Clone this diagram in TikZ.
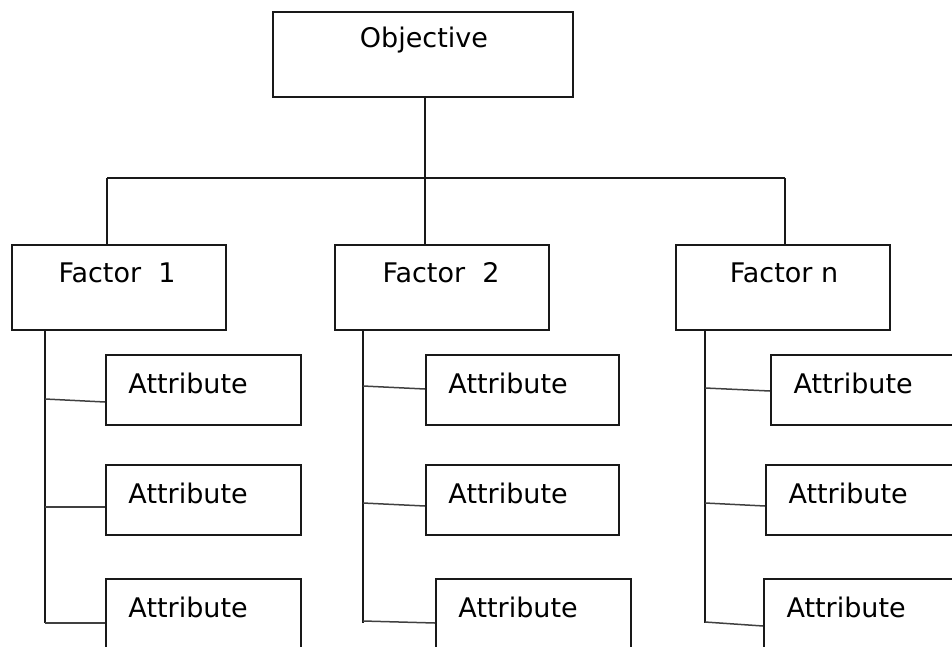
\documentclass[tikz,border=0pt]{standalone}
\usepackage{fontspec}
\setmainfont{DejaVu Sans}
\begin{document}
\begin{tikzpicture}[x=1pt,y=-1pt,
  box/.style={draw=black!90,line width=1.8pt,rectangle,inner sep=0pt},
  factorbox/.style={box,minimum width=214pt,minimum height=85pt},
  attrbox/.style={box,minimum width=195pt,minimum height=70pt},
  lbl/.style={inner sep=0pt,font=\fontsize{27}{32}\selectfont},
  conn/.style={draw=black!90,line width=1.8pt},
  thin/.style={draw=black!75,line width=1.5pt}]
\useasboundingbox (0,0) rectangle (952,646);
\clip (0,0) rectangle (952,646);
% objective
\node[box,minimum width=300pt,minimum height=85pt] (obj) at (423,54.5) {};
\node[lbl] (tobj) at (424,40) {Objective};
% factors
\node[factorbox] (f1) at (119,287.5) {};
\node[factorbox] (f2) at (442,287.5) {};
\node[factorbox] (f3) at (783,287.5) {};
\node[lbl] (tf1) at (117,273) {Factor\ \ 1};
\node[lbl] (tf2) at (441,273) {Factor\ \ 2};
\node[lbl] (tf3) at (784,273) {Factor n};
% attributes col 1
\node[attrbox] (a11) at (203.5,390) {};
\node[attrbox] (a12) at (203.5,500) {};
\node[attrbox] (a13) at (203.5,614) {};
% col 2
\node[attrbox,minimum width=193pt] (a21) at (522.5,390) {};
\node[attrbox,minimum width=193pt] (a22) at (522.5,500) {};
\node[attrbox] (a23) at (533.5,614) {};
% col 3
\node[attrbox] (a31) at (868.5,390) {};
\node[attrbox] (a32) at (863.5,500) {};
\node[attrbox] (a33) at (861.5,614) {};
% attribute labels
\foreach \n in {a11,a12,a13,a21,a22,a23,a31,a32,a33}{
  \node[lbl] (t\n) at ([xshift=83pt,yshift=-29pt]\n.north west) {Attribute};
}
% tree from objective
\coordinate (hl) at (107,178);
\coordinate (hr) at (785,178);
\draw[conn] (obj.south -| 425,0) -- (425,178);
\draw[conn] (hl) -- (hr);
\draw[conn] (hl) -- (hl |- f1.north);
\draw[conn] (425,178) -- (f2.north -| 425,0);
\draw[conn] (hr) -- (hr |- f3.north);
% verticals under factors
\coordinate (v1) at (45,623);
\coordinate (v2) at (363,623);
\coordinate (v3) at (705,623);
\draw[conn] (f1.south -| v1) -- (v1);
\draw[conn] (f2.south -| v2) -- (v2);
\draw[conn] (f3.south -| v3) -- (v3);
% connectors to attributes
\draw[thin] (45,399) -- ([yshift=-12pt]a11.west);
\draw[thin] (45,507) -- ([yshift=-7pt]a12.west);
\draw[thin] (v1) -- (a13.west |- v1);
\draw[thin] (363,386) -- ([yshift=1pt]a21.west);
\draw[thin] (363,503) -- ([yshift=-6pt]a22.west);
\draw[thin] (363,621) -- ([yshift=-9pt]a23.west);
\draw[thin] (705,388) -- ([yshift=-1pt]a31.west);
\draw[thin] (705,503) -- ([yshift=-6pt]a32.west);
\draw[thin] (705,622) -- ([yshift=-12pt]a33.west);
\end{tikzpicture}
\end{document}
